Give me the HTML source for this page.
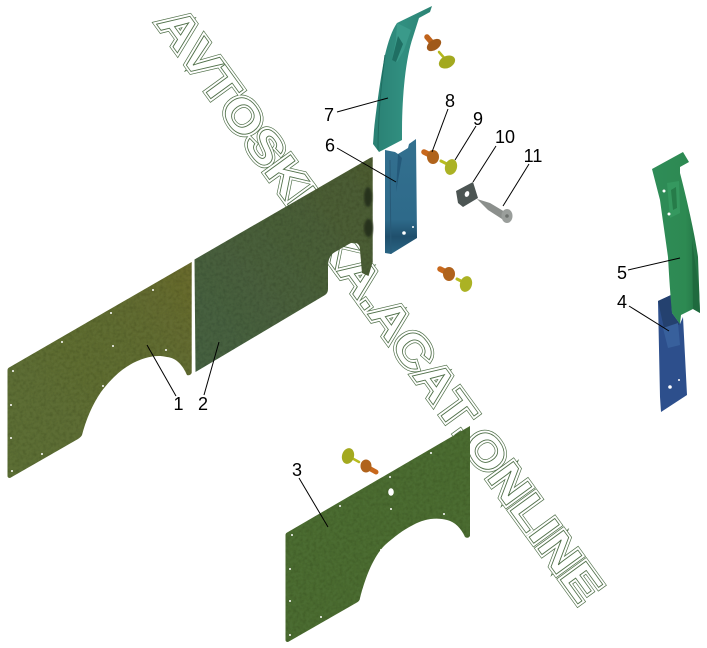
<!DOCTYPE html>
<html><head><meta charset="utf-8"><style>
html,body{margin:0;padding:0;background:#fff}
svg{display:block}
.n{font:18px "Liberation Sans",sans-serif;fill:#000;text-anchor:middle}
.wm{font:bold 46px "Liberation Sans",sans-serif;font-kerning:none;font-feature-settings:"kern" 0;text-rendering:geometricPrecision}
</style></head><body>
<svg width="707" height="648" viewBox="0 0 707 648" xmlns="http://www.w3.org/2000/svg">
<defs>
<linearGradient id="p1" x1="0" y1="1" x2="1" y2="0"><stop offset="0" stop-color="#5c6e36"/><stop offset=".6" stop-color="#5e6c32"/><stop offset="1" stop-color="#686b2e"/></linearGradient>
<linearGradient id="p2" x1="0" y1="1" x2="1" y2="0"><stop offset="0" stop-color="#456142"/><stop offset=".5" stop-color="#495e3a"/><stop offset="1" stop-color="#4d5c32"/></linearGradient>
<linearGradient id="t7" x1="0" y1="0" x2="1" y2="0"><stop offset="0" stop-color="#2a8073"/><stop offset=".5" stop-color="#318f80"/><stop offset="1" stop-color="#2c8374"/></linearGradient>
<linearGradient id="b6" x1="0" y1="0" x2="0" y2="1"><stop offset="0" stop-color="#33708f"/><stop offset=".7" stop-color="#2e6a8a"/><stop offset=".85" stop-color="#1f4f6c"/><stop offset="1" stop-color="#2a6584"/></linearGradient>
<linearGradient id="g5" x1="0" y1="0" x2="1" y2="0"><stop offset="0" stop-color="#2f8c58"/><stop offset=".7" stop-color="#2d8a52"/><stop offset="1" stop-color="#226f42"/></linearGradient>
<filter id="blur"><feGaussianBlur stdDeviation="1"/></filter>
<filter id="tex" x="0" y="0" width="100%" height="100%">
<feTurbulence type="fractalNoise" baseFrequency=".3" numOctaves="2" seed="4" result="n"/>
<feColorMatrix in="n" type="matrix" values="0 0 0 0 0  0 0 0 0 0  0 0 0 0 0  .5 0 0 0 -.2" result="d"/>
<feComposite in="d" in2="SourceAlpha" operator="in" result="c"/>
<feMerge><feMergeNode in="SourceGraphic"/><feMergeNode in="c"/></feMerge>
</filter>
</defs>

<!-- watermark -->
<g transform="translate(155.800 23.100) rotate(54) scale(1.15 1)">
<text class="wm" x="0" y="0" fill="none" stroke="#4f6f48" stroke-width="5.600" stroke-linejoin="miter" stroke-miterlimit="6" style="vector-effect:non-scaling-stroke">AVTOSKIZKA.ACAT.ONLINE</text>
<text class="wm" x="0" y="0" fill="#fff" stroke="#fff" stroke-width="4.300" stroke-linejoin="miter" stroke-miterlimit="6" style="vector-effect:non-scaling-stroke">AVTOSKIZKA.ACAT.ONLINE</text>
<text class="wm" x="0" y="0" fill="#fff" stroke="#4f6f48" stroke-width=".8" style="vector-effect:non-scaling-stroke">AVTOSKIZKA.ACAT.ONLINE</text>
</g>

<!-- panel 1 -->
<path filter="url(#tex)" d="M10 367 L191.700 262 L191.700 373 Q190 376 187 375 C183 366 177 358 167 357 C155 354 143 358 133 363 C120 370 110 380 101 392 C92 405 86 420 82 435 Q81 437 78 439 L10 478 Q7.500 478 7.500 476 L7.500 370 Q7.500 368 10 367Z" fill="url(#p1)"/>
<g fill="#fff">
<circle cx="153" cy="290" r="1"/><circle cx="111" cy="313" r="1"/><circle cx="62" cy="342" r="1"/><circle cx="113" cy="346" r="1"/><circle cx="166" cy="350" r="1"/><circle cx="13" cy="371" r="1"/><circle cx="103" cy="386" r="1"/><circle cx="11" cy="405" r="1"/><circle cx="11" cy="438" r="1"/><circle cx="42" cy="454" r="1"/><circle cx="12" cy="471" r="1"/>
</g>

<!-- panel 2 -->
<path filter="url(#tex)" d="M194.500 259.500 L370 158 L372.700 157 L372.700 262 L368.500 276 L362 273 L360 250 Q360 243 355 243 Q352 242 349 244 L335 252 Q328 256 328 266 L328 289 Q328 293 325 295 L195.500 372 Z" fill="url(#p2)"/>
<g fill="#26301c" filter="url(#blur)"><ellipse cx="368" cy="197" rx="4" ry="10"/><ellipse cx="368.500" cy="228" rx="4.500" ry="9"/></g>

<!-- panel 3 -->
<path filter="url(#tex)" d="M288 532 L470 426 L470 536 Q468 539 465 537 C461 528 455 522 447 520 C436 517 424 519 413 525 C403 530 394 537 385 545 C374 556 366 575 360 598 Q360 601 356 603 L288 642 Q285.500 642 285.500 640 L285.500 535 Q285.500 533 288 532Z" fill="#4b6c31"/>
<g fill="#fff">
<circle cx="431" cy="453" r="1"/><circle cx="390" cy="477" r="1"/><ellipse cx="391" cy="492" rx="2.800" ry="3.800"/><circle cx="340" cy="506" r="1"/><circle cx="391" cy="509" r="1"/><circle cx="444" cy="514" r="1"/><circle cx="292" cy="535" r="1"/><circle cx="381" cy="550" r="1"/><circle cx="290" cy="569" r="1"/><circle cx="290" cy="601" r="1"/><circle cx="321" cy="617" r="1"/><circle cx="290" cy="635" r="1"/>
</g>

<!-- part 7 -->
<path d="M432 6 L397 23 C392 30 388 42 385 55 C380 80 376 112 374 130 L373 144 L379 152 L402 140 L402 133 C402 100 405 60 413 37 L419 18 L430 12Z" fill="url(#t7)"/>
<path d="M397 23 L411 30 L404 50 L397 62 L392 60 L396 40Z" fill="#3a9a8a"/>
<path d="M398 36 L403 44 L396 62 L392 60Z" fill="#1f6f63"/>
<path d="M385 55 C381 85 378 115 378 150" stroke="#1e6c60" stroke-width="1" fill="none"/>

<!-- part 6 -->
<path d="M385 150 L395 152 L398 154 L408 148 L409 144 L416 139 L417 238 L391 254 L385 253Z" fill="url(#b6)"/>
<path d="M398 154 L396 192 L402 158Z" fill="#24597a"/>
<circle cx="404" cy="233" r="1.800" fill="#fff"/><circle cx="413" cy="227" r="1" fill="#fff"/>
<path d="M390 160 L391 254" stroke="#285a78" stroke-width="1"/>

<!-- part 5 and 4 -->
<path d="M658 301 L671 295 L672 313 L680 324 L683 317 L687 395 L661 412 L660 397Z" fill="#2d4f8c"/>
<path d="M658 301 L671 295 L672 313 L680 324 L665 333 Z" fill="#24416f"/>
<path d="M663 328 L678 323 L680 345 L668 348Z" fill="#38609c"/>
<circle cx="670" cy="387" r="1.800" fill="#fff"/><circle cx="679" cy="380" r="1" fill="#fff"/>
<path d="M652 169 L683 152 L689 162 L680 167 L680 173 C687 200 695 235 698 257 L700 313 L693 309 L681 315 L680 324 L672 313 C670 290 669 275 668 257 C665 235 662 215 660 200Z" fill="url(#g5)"/>
<path d="M667 183 L679 181 L680 213 L670 218Z" fill="#35985f"/>
<path d="M671 190 L676 187 L677 208 L673 210Z" fill="#267c49"/>
<circle cx="664" cy="191" r="1.500" fill="#fff"/><circle cx="669" cy="214" r="1.500" fill="#fff"/>
<path d="M692 240 L699 290 L700 313 L693 309Z" fill="#1f6a3e"/>

<!-- fasteners -->
<g stroke-linecap="round">
<path d="M427 37 L433 44" stroke="#c0631b" stroke-width="5.500"/><ellipse cx="434" cy="45" rx="8" ry="5" transform="rotate(-35 434 45)" fill="#a0591a"/>
<path d="M439 52 L446 60" stroke="#b5b81c" stroke-width="2.500"/><ellipse cx="447" cy="62" rx="8.500" ry="6" transform="rotate(-25 447 62)" fill="#a3a91f"/>
<path d="M424 152 L432 156" stroke="#c8681c" stroke-width="5.500"/><ellipse cx="433" cy="157" rx="6" ry="7" fill="#b0631c"/>
<path d="M441 161 L449 165" stroke="#b8bc20" stroke-width="3"/><ellipse cx="451" cy="167" rx="6" ry="8" transform="rotate(15 451 167)" fill="#abb224"/>
<path d="M440 269 L448 273" stroke="#c8681c" stroke-width="5.500"/><ellipse cx="449" cy="274" rx="6" ry="7" fill="#b0631c"/>
<path d="M457 279 L465 283" stroke="#b8bc20" stroke-width="3"/><ellipse cx="466" cy="284" rx="6" ry="8" transform="rotate(15 466 284)" fill="#abb224"/>
<path d="M350 457 L359 462" stroke="#b8bc20" stroke-width="2.500"/><ellipse cx="348" cy="456" rx="6" ry="8" transform="rotate(15 348 456)" fill="#a3a91f"/>
<path d="M367 467 L376 472" stroke="#c8681c" stroke-width="5"/><ellipse cx="366" cy="466" rx="5.500" ry="6.500" fill="#b0631c"/>
</g>

<!-- part 10 -->
<path d="M456 191 L473 182 L478 198 L463 207 L458 203Z" fill="#4c5553"/>
<ellipse cx="467" cy="194" rx="2.200" ry="3" fill="#fff" transform="rotate(20 467 194)"/>
<!-- part 11 -->
<path d="M477 199 L490 203 L505 212 L502 219 L488 210Z" fill="#8b8f8c"/>
<ellipse cx="507" cy="216" rx="5.500" ry="7" fill="#9a9e9b"/>
<circle cx="507" cy="216" r="1.800" fill="#6d716e"/>

<!-- leaders -->
<g stroke="#000" stroke-width="1" fill="none">
<path d="M147 345 L176 396"/><path d="M219 342 L204 395"/><path d="M299 478 L328 527"/>
<path d="M629 306 L669 331"/><path d="M628 270 L680 258"/><path d="M337 148 L396 182"/>
<path d="M337 112 L388 98"/><path d="M448 109 L432 152"/><path d="M476 126 L455 160"/>
<path d="M496 146 L473 182"/><path d="M529 164 L503 206"/>
</g>

<!-- labels -->
<text class="n" x="178.500" y="410">1</text>
<text class="n" x="203" y="410">2</text>
<text class="n" x="297" y="476">3</text>
<text class="n" x="622" y="308">4</text>
<text class="n" x="622" y="279">5</text>
<text class="n" x="330" y="151.500">6</text>
<text class="n" x="329" y="121">7</text>
<text class="n" x="450" y="107">8</text>
<text class="n" x="478" y="125">9</text>
<text class="n" x="505" y="143">10</text>
<text class="n" x="533" y="162">11</text>
</svg>
</body></html>
